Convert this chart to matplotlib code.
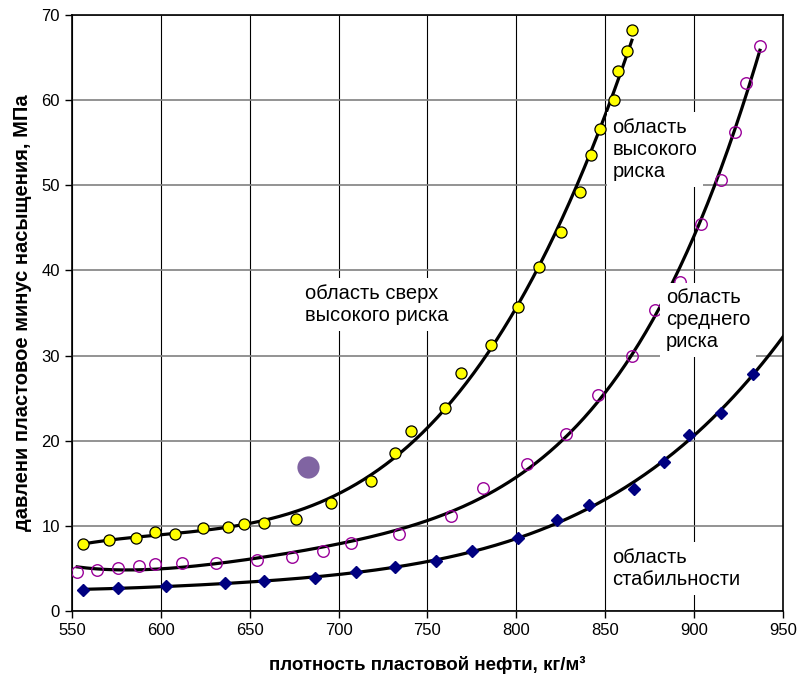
import numpy as np
import matplotlib.pyplot as plt

plt.rcParams['font.family'] = ['Liberation Sans', 'DejaVu Sans']

# yellow - сверх высокий риск
x_hi = [556, 571, 586, 597, 608, 624, 638, 647, 658, 676, 696, 718, 732, 741, 760,
        769, 786, 801, 813, 825, 836, 842, 847, 855, 857, 862, 865]
y_hi = [7.9, 8.3, 8.6, 9.3, 9.05, 9.7, 9.9, 10.2, 10.4, 10.8, 12.65, 15.3, 18.6, 21.15, 23.8,
        27.9, 31.3, 35.7, 40.4, 44.5, 49.2, 53.6, 56.6, 60.0, 63.4, 65.8, 68.2]

# purple hollow - средний риск
x_mid = [553, 564, 576, 588, 597, 612, 631, 654, 674, 691, 707, 734, 763, 781, 806,
         828, 846, 865, 878, 892, 904, 915, 923, 929, 937]
y_mid = [4.55, 4.8, 5.0, 5.25, 5.55, 5.7, 5.7, 5.95, 6.3, 7.0, 7.95, 9.05, 11.15, 14.5, 17.3,
         20.8, 25.4, 29.9, 35.4, 38.7, 45.4, 50.6, 56.3, 62.0, 66.4]

# blue diamonds - стабильность
x_lo = [556, 576, 603, 636, 658, 687, 710, 732, 755, 775, 801, 823, 841, 866, 883, 897, 915, 933]
y_lo = [2.5, 2.67, 2.97, 3.33, 3.5, 3.88, 4.55, 5.13, 5.9, 7.0, 8.57, 10.7, 12.46, 14.34,
        17.55, 20.65, 23.3, 27.85]

x_pt = [683]
y_pt = [16.9]

fig = plt.figure(figsize=(7.99, 6.82), dpi=100)
ax = fig.add_axes([0.090, 0.104, 0.890, 0.874])

# trendlines (polynomial fits of the data)
for xs, ys, x_end, deg in [(x_hi, y_hi, 865, 3), (x_mid, y_mid, 937, 4), (x_lo, y_lo, 960, 4)]:
    c = np.polyfit(xs, ys, deg)
    xx = np.linspace(min(xs), x_end, 300)
    ax.plot(xx, np.polyval(c, xx), color='black', lw=2.3, zorder=3)

ax.plot(x_hi, y_hi, 'o', ms=8, mfc='#ffff00', mec='black', mew=0.9, zorder=4)
ax.plot(x_mid, y_mid, 'o', ms=8.3, mfc='none', mec='#990099', mew=1.0, zorder=4)
ax.plot(x_lo, y_lo, 'D', ms=6.5, mfc='#000080', mec='#000080', zorder=4)
ax.plot(x_pt, y_pt, 'o', ms=16, color='#8064a2', mec='none', zorder=4)

box = dict(facecolor='white', edgecolor='none', pad=4)
fs = 14.5
ax.text(681, 38.4, 'область сверх\nвысокого риска', fontsize=fs, va='top',
        linespacing=1.2, bbox=box, zorder=5)
ax.text(854, 57.9, 'область\nвысокого\nриска', fontsize=fs, va='top',
        linespacing=1.2, bbox=box, zorder=5)
ax.text(884, 37.9, 'область\nсреднего\nриска', fontsize=fs, va='top',
        linespacing=1.2, bbox=box, zorder=5)
ax.text(854, 7.4, 'область\nстабильности', fontsize=fs, va='top',
        linespacing=1.2, bbox=box, zorder=5)

ax.set_xlim(550, 950)
ax.set_ylim(0, 70)
ax.set_xticks(np.arange(550, 951, 50))
ax.set_yticks(np.arange(0, 71, 10))
ax.grid(axis='x', color='black', lw=0.8)
ax.grid(axis='y', color='#808080', lw=1.2)
ax.set_axisbelow(True)
ax.tick_params(direction='out', length=5, labelsize=12, width=1)
for s in ax.spines.values():
    s.set_linewidth(1.2)

ax.set_xlabel('плотность пластовой нефти, кг/м³', fontsize=13.5, fontweight='bold', labelpad=13)
ax.set_ylabel('давлени пластовое минус насыщения, МПа', fontsize=14.5, fontweight='bold', labelpad=7)

fig.savefig('out.png', dpi=100)
